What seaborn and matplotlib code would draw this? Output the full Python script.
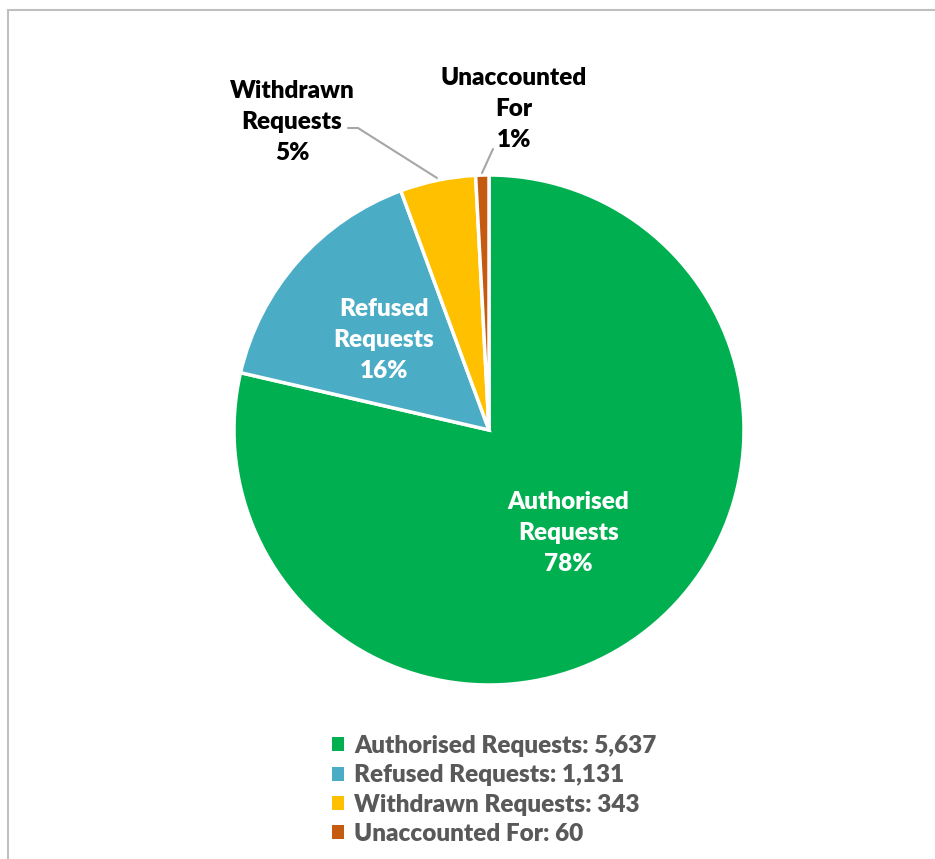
import matplotlib
matplotlib.use("Agg")
import matplotlib.pyplot as plt
import seaborn as sns
import numpy as np
from matplotlib.patches import Rectangle

categories = ["Authorised Requests", "Refused Requests", "Withdrawn Requests", "Unaccounted For"]
values = [5637, 1131, 343, 60]
pct_labels = ["78%", "16%", "5%", "1%"]
slice_labels = ["Authorised\nRequests\n78%", "Refused\nRequests\n16%", "Withdrawn\nRequests\n5%", "Unaccounted\nFor\n1%"]
value_labels = ["5,637", "1,131", "343", "60"]
colors = ["#00B050", "#4BACC6", "#FFC000", "#C55A11"]

sns.set_theme(style="white")
plt.rcParams['font.family'] = ['Lato', 'DejaVu Sans']
plt.rcParams['font.weight'] = 'bold'

W, H = 935, 859
fig = plt.figure(figsize=(W / 100, H / 100), dpi=100)
cx, cy, R = 489, 430, 255
ax = fig.add_axes([(cx - R) / W, (H - cy - R) / H, 2 * R / W, 2 * R / H])

wedges, _ = ax.pie(values, colors=sns.color_palette(colors), startangle=90, counterclock=False,
                   radius=1, wedgeprops=dict(edgecolor="white", linewidth=2.5))
ax.set_xlim(-1, 1)
ax.set_ylim(-1, 1)
ax.set_aspect("equal")
ax.axis("off")

def px(x, y):
    return (x - cx) / R, (cy - y) / R

fs = 17.5
ls = 1.5
# inside labels
for i, r in enumerate([0.5, 0.55]):
    w = wedges[i]
    ang = np.deg2rad((w.theta1 + w.theta2) / 2)
    ax.text(r * np.cos(ang), r * np.sin(ang) - 0.012, slice_labels[i], ha="center", va="center",
            color="white", fontsize=fs, fontweight="heavy", linespacing=ls)

# outside labels
x, y = px(292, 122)
ax.text(x, y, slice_labels[2], ha="center", va="center", color="black", fontsize=fs,
        fontweight="heavy", linespacing=ls, clip_on=False)
x, y = px(514, 109)
ax.text(x, y, slice_labels[3], ha="center", va="center", color="black", fontsize=fs,
        fontweight="heavy", linespacing=ls, clip_on=False)

# leader lines
p = [px(348, 128), px(358, 128), px(437, 178)]
ax.plot([q[0] for q in p], [q[1] for q in p], color="#A6A6A6", lw=1.5, clip_on=False)
p = [px(493, 149), px(482, 173)]
ax.plot([q[0] for q in p], [q[1] for q in p], color="#A6A6A6", lw=1.5, clip_on=False)

# legend
leg_labels = [f"{c}: {v}" for c, v in zip(categories, value_labels)]
leg = fig.legend(wedges, leg_labels, loc="upper left", bbox_to_anchor=(332 / W, 1 - 735 / H),
                 frameon=False, fontsize=fs, handlelength=0.5, handleheight=0.5,
                 handletextpad=0.42, labelspacing=0.3, borderpad=0, borderaxespad=0)
for t in leg.get_texts():
    t.set_color("#595959")
    t.set_fontweight("heavy")
for h in leg.legend_handles:
    h.set_edgecolor("none")

# frame border
fig.patches.append(Rectangle((8 / W, -0.1), 1.2, (H - 10) / H + 0.1, transform=fig.transFigure,
                             fill=False, edgecolor="#BFBFBF", lw=1.5, zorder=0))

fig.savefig("out.png", dpi=100, facecolor="white")
